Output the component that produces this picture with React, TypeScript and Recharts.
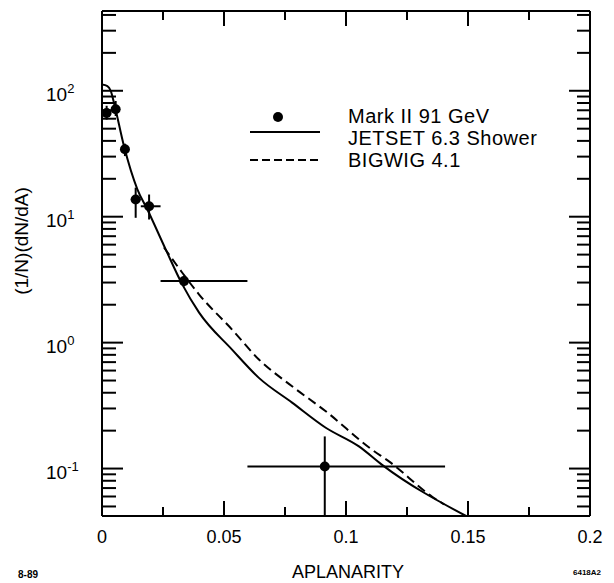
import { ComposedChart, Line, Scatter, XAxis, YAxis, ErrorBar } from "recharts";

const FONT = '"Liberation Sans", Arial, Helvetica, sans-serif';

// Mark II 91 GeV data points (with error bar bounds)
const MARK_X = [0.0019, 0.0056, 0.0094, 0.0138, 0.0193, 0.0336, 0.0913];
const MARK_Y = [66.5, 71.3, 34.3, 13.7, 12.1, 3.08, 0.104];
const MARK_Y_LO = [59, 63, 30.3, 9.8, 9.5, 2.8, 0.042];
const MARK_Y_HI = [76, 83, 38, 17, 15, 3.4, 0.18];
const MARK_X_LO = [0.0019, 0.0056, 0.0094, 0.0118, 0.0159, 0.024, 0.0596];
const MARK_X_HI = [0.0019, 0.0056, 0.0094, 0.0159, 0.024, 0.0596, 0.1406];

// JETSET 6.3 Shower (solid)
const JETSET_X = [0, 0.0022, 0.0036, 0.0049, 0.009, 0.0145, 0.0186, 0.0261, 0.0329, 0.0398, 0.0533, 0.0643, 0.0779, 0.0917, 0.1053, 0.1148, 0.1492];
const JETSET_Y = [112, 109, 99.6, 80.5, 36.4, 16.5, 11.4, 5.5, 2.9, 1.73, 0.88, 0.525, 0.334, 0.211, 0.15, 0.107, 0.042];

// BIGWIG 4.1 (dashed)
const BIGWIG_X = [0.0254, 0.0329, 0.0398, 0.0533, 0.0643, 0.0779, 0.0917, 0.1107, 0.1176, 0.1352, 0.1402];
const BIGWIG_Y = [5.7, 3.59, 2.41, 1.27, 0.735, 0.45, 0.285, 0.141, 0.114, 0.06, 0.052];

const X_TICKS = [0, 0.025, 0.05, 0.075, 0.1, 0.125, 0.15, 0.175, 0.2];
const X_LABELS = [0, 0.05, 0.1, 0.15, 0.2];
const Y_TICKS = [
  0.05, 0.06, 0.07, 0.08, 0.09,
  0.1, 0.2, 0.3, 0.4, 0.5, 0.6, 0.7, 0.8, 0.9,
  1, 2, 3, 4, 5, 6, 7, 8, 9,
  10, 20, 30, 40, 50, 60, 70, 80, 90,
  100, 200, 300, 400,
];
const Y_LABELS = [0.1, 1, 10, 100];

const X_DOMAIN = [0, 0.2];
const Y_DOMAIN = [0.042, 430];

const marks = MARK_X.map((x, i) => ({
  x,
  y: MARK_Y[i],
  yErr: [MARK_Y[i] - MARK_Y_LO[i], MARK_Y_HI[i] - MARK_Y[i]],
  xErr: [x - MARK_X_LO[i], MARK_X_HI[i] - x],
}));
const jetset = JETSET_X.map((x, i) => ({ x, y: JETSET_Y[i] }));
const bigwig = BIGWIG_X.map((x, i) => ({ x, y: BIGWIG_Y[i] }));

function BottomTick(props: any) {
  const { x, y, payload } = props;
  const major = X_LABELS.includes(payload.value);
  return (
    <g>
      <line x1={x} x2={x} y1={y} y2={y - (major ? 15 : 9)} stroke="#000" strokeWidth={2} />
      {major && (
        <text x={x} y={y + 27} textAnchor="middle" fontSize={18} fontFamily={FONT} fill="#000">
          {payload.value}
        </text>
      )}
    </g>
  );
}

function TopTick(props: any) {
  const { x, y, payload } = props;
  const major = X_LABELS.includes(payload.value);
  return (
    <g>
      <line x1={x} x2={x} y1={y} y2={y + (major ? 15 : 9)} stroke="#000" strokeWidth={2} />
    </g>
  );
}

function LeftTick(props: any) {
  const { x, y, payload } = props;
  const v = payload.value;
  const major = Y_LABELS.includes(v);
  const exp = Math.round(Math.log10(v));
  return (
    <g>
      <line x1={x} x2={x + (major ? 21 : 14)} y1={y} y2={y} stroke="#000" strokeWidth={2} />
      {major && (
        <text x={x - 56} y={y + 10} fontSize={19} fontFamily={FONT} fill="#000">
          10
          <tspan dy={-8} fontSize={13}>{exp}</tspan>
        </text>
      )}
    </g>
  );
}

function RightTick(props: any) {
  const { x, y, payload } = props;
  const major = Y_LABELS.includes(payload.value);
  return (
    <g>
      <line x1={x} x2={x - (major ? 21 : 13)} y1={y} y2={y} stroke="#000" strokeWidth={2} />
    </g>
  );
}

const Dot = (p: any) => <circle cx={p.cx} cy={p.cy} r={5} fill="#000" />;

const axisLine = { stroke: "#000", strokeWidth: 2 };
const layer = { position: "absolute" as const, left: 0, top: 0 };
const chartSize = { width: 614, height: 583, margin: { top: 0, right: 0, bottom: 0, left: 0 } };

// the same four axes in both layers; `show` turns ticks and frame on
function Axes({ show }: { show: boolean }) {
  const common = { type: "number" as const, allowDataOverflow: true, interval: 0, tickSize: 0, tickMargin: 0 };
  return [
    <XAxis
      key="b"
      xAxisId="b"
      dataKey="x"
      domain={X_DOMAIN}
      ticks={X_TICKS}
      tick={show ? <BottomTick /> : false}
      tickLine={false}
      axisLine={show ? axisLine : false}
      height={67}
      {...common}
    />,
    <XAxis
      key="t"
      xAxisId="t"
      orientation="top"
      dataKey="x"
      domain={X_DOMAIN}
      ticks={X_TICKS}
      tick={show ? <TopTick /> : false}
      tickLine={false}
      axisLine={show ? axisLine : false}
      height={11}
      {...common}
    />,
    <YAxis
      key="l"
      yAxisId="l"
      dataKey="y"
      scale="log"
      domain={Y_DOMAIN}
      ticks={Y_TICKS}
      tick={show ? <LeftTick /> : false}
      tickLine={false}
      axisLine={show ? axisLine : false}
      width={102}
      {...common}
    />,
    <YAxis
      key="r"
      yAxisId="r"
      orientation="right"
      dataKey="y"
      scale="log"
      domain={Y_DOMAIN}
      ticks={Y_TICKS}
      tick={show ? <RightTick /> : false}
      tickLine={false}
      axisLine={show ? axisLine : false}
      width={24}
      {...common}
    />,
  ];
}

export default function App() {
  return (
    <div style={{ position: "absolute", left: 0, top: 0, width: 614, height: 583 }}>
      <svg width={614} height={583} style={layer} fontFamily={FONT}>
        <circle cx={278} cy={117} r={5} fill="#000" />
        <line x1={250} x2={320} y1={132} y2={132} stroke="#000" strokeWidth={2} />
        <line x1={250} x2={322} y1={160} y2={160} stroke="#000" strokeWidth={2} strokeDasharray="8 4" />
        <text x={348} y={123} fontSize={20} letterSpacing={0.5}>Mark II 91 GeV</text>
        <text x={348} y={145} fontSize={20} letterSpacing={0.5}>JETSET 6.3 Shower</text>
        <text x={348} y={167} fontSize={20} letterSpacing={0.5}>BIGWIG 4.1</text>
        <text x={348} y={578} fontSize={18} textAnchor="middle">APLANARITY</text>
        <text x={28} y={241} fontSize={19} textAnchor="middle" transform="rotate(-90 28 241)">(1/N)(dN/dA)</text>
        <text x={18} y={578} fontSize={10} fontWeight="bold">8-89</text>
        <text x={573} y={575} fontSize={8} fontWeight="bold">6418A2</text>
      </svg>

      {/* data layer */}
      <div style={layer}>
        <ComposedChart {...chartSize}>
          {Axes({ show: false })}
          <Line
            xAxisId="b"
            yAxisId="l"
            data={jetset}
            dataKey="y"
            type="monotone"
            stroke="#000"
            strokeWidth={2}
            dot={false}
            isAnimationActive={false}
          />
          <Line
            xAxisId="b"
            yAxisId="l"
            data={bigwig}
            dataKey="y"
            type="monotone"
            stroke="#000"
            strokeWidth={2}
            strokeDasharray="9 5"
            dot={false}
            isAnimationActive={false}
          />
          <Scatter
            xAxisId="b"
            yAxisId="l"
            data={marks}
            dataKey="y"
            shape={Dot}
            isAnimationActive={false}
          >
            <ErrorBar dataKey="yErr" direction="y" width={0} stroke="#000" strokeWidth={2} />
            <ErrorBar dataKey="xErr" direction="x" width={0} stroke="#000" strokeWidth={2} />
          </Scatter>
        </ComposedChart>
      </div>

      {/* frame, ticks and tick labels */}
      <div style={{ ...layer, pointerEvents: "none" }}>
        <ComposedChart {...chartSize}>{Axes({ show: true })}</ComposedChart>
      </div>
    </div>
  );
}
